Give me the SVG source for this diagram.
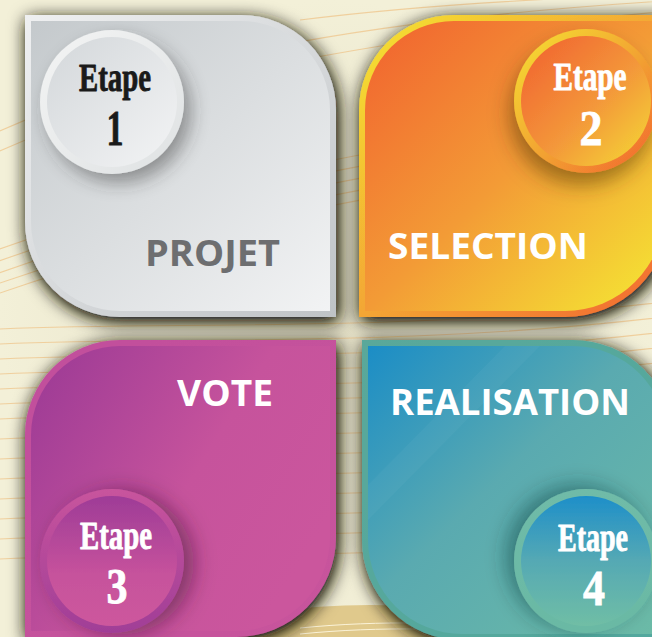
<svg xmlns="http://www.w3.org/2000/svg" width="652" height="637" viewBox="0 0 652 637">
<defs>
<style>
.etape{font-family:"Liberation Serif","Times New Roman",serif;font-weight:bold;font-size:40px;stroke-width:0.9px;stroke-linejoin:round}
.num{font-family:"Liberation Serif","Times New Roman",serif;font-weight:bold;font-size:50px;stroke-width:0.8px}
.lbl{font-family:"Open Sans","Liberation Sans",Arial,sans-serif;font-weight:bold;font-size:36px;fill:#ffffff}
.wave{fill:none;stroke:#efc489;stroke-width:1.1;opacity:.75}
.dark{fill:#1a1a1a;stroke:#1a1a1a}
.white{fill:#ffffff;stroke:#ffffff}
</style>
<filter id="tileShadow" x="-20%" y="-20%" width="140%" height="140%">
<feGaussianBlur in="SourceAlpha" stdDeviation="9" result="b"/>
<feOffset in="b" dx="2" dy="4" result="o"/>
<feFlood flood-color="#1c1b0c" flood-opacity="1"/>
<feComposite in2="o" operator="in" result="s"/>
<feComponentTransfer in="s" result="s2"><feFuncA type="linear" slope="1.25"/></feComponentTransfer>
<feMerge><feMergeNode in="s2"/><feMergeNode in="SourceGraphic"/></feMerge>
</filter>
<filter id="circShadowBR" x="-40%" y="-40%" width="180%" height="180%">
<feDropShadow dx="7" dy="9" stdDeviation="9" flood-color="#303030" flood-opacity="0.45"/>
</filter>
<filter id="circShadowBL" x="-40%" y="-40%" width="180%" height="180%">
<feDropShadow dx="-4" dy="12" stdDeviation="10" flood-color="#4a3000" flood-opacity="0.5"/>
</filter>
<filter id="circShadowR" x="-40%" y="-40%" width="180%" height="180%">
<feDropShadow dx="10" dy="2" stdDeviation="10" flood-color="#3a0f30" flood-opacity="0.5"/>
</filter>
<filter id="circShadowL" x="-40%" y="-40%" width="180%" height="180%">
<feDropShadow dx="-8" dy="-4" stdDeviation="10" flood-color="#0f3030" flood-opacity="0.45"/>
</filter>
<linearGradient id="g1b" x1="0" y1="0" x2="1" y2="1"><stop offset="0" stop-color="#eff0f1"/><stop offset="1" stop-color="#bfc3c6"/></linearGradient>
<linearGradient id="g1f" x1="0" y1="0" x2="1" y2="1"><stop offset="0" stop-color="#c4c9cc"/><stop offset="1" stop-color="#f2f3f4"/></linearGradient>
<linearGradient id="g2b" x1="0" y1="0" x2="1" y2="1"><stop offset="0" stop-color="#f4e432"/><stop offset="0.5" stop-color="#f3a634"/><stop offset="1" stop-color="#f2662f"/></linearGradient>
<linearGradient id="g2f" x1="0" y1="0" x2="1" y2="1"><stop offset="0" stop-color="#f1612f"/><stop offset="0.5" stop-color="#f39b36"/><stop offset="1" stop-color="#f5ea33"/></linearGradient>
<linearGradient id="g3b" x1="0" y1="0" x2="1" y2="1"><stop offset="0" stop-color="#c14f9c"/><stop offset="1" stop-color="#c8549c"/></linearGradient>
<linearGradient id="g3f" x1="0" y1="0" x2="1" y2="0.6"><stop offset="0" stop-color="#9a3995"/><stop offset="0.6" stop-color="#c6539c"/><stop offset="1" stop-color="#cb569d"/></linearGradient>
<linearGradient id="g4b" x1="0" y1="0" x2="1" y2="1"><stop offset="0" stop-color="#5aa89a"/><stop offset="1" stop-color="#52a89e"/></linearGradient>
<linearGradient id="g4f" x1="0" y1="0" x2="1" y2="1"><stop offset="0" stop-color="#1b8dc6"/><stop offset="0.45" stop-color="#5aaab0"/><stop offset="1" stop-color="#6cbba6"/></linearGradient>
<linearGradient id="c1r" x1="0" y1="0" x2="1" y2="1"><stop offset="0" stop-color="#f3f4f4"/><stop offset="1" stop-color="#dfe2e3"/></linearGradient>
<linearGradient id="c1f" x1="0" y1="0" x2="1" y2="1"><stop offset="0" stop-color="#d3d7da"/><stop offset="1" stop-color="#f3f4f5"/></linearGradient>
<linearGradient id="c2r" x1="0" y1="0" x2="1" y2="1"><stop offset="0" stop-color="#f5e233"/><stop offset="0.55" stop-color="#f2a030"/><stop offset="1" stop-color="#f2622f"/></linearGradient>
<linearGradient id="c2f" x1="0" y1="0" x2="1" y2="1"><stop offset="0" stop-color="#f15e2f"/><stop offset="0.55" stop-color="#f3973a"/><stop offset="1" stop-color="#f5dc34"/></linearGradient>
<linearGradient id="c3r" x1="0" y1="0" x2="0" y2="1"><stop offset="0" stop-color="#c8549d"/><stop offset="1" stop-color="#a03e97"/></linearGradient>
<linearGradient id="c3f" x1="0" y1="0" x2="0" y2="1"><stop offset="0" stop-color="#9e3c97"/><stop offset="0.6" stop-color="#c6529c"/><stop offset="1" stop-color="#cd589d"/></linearGradient>
<linearGradient id="c4r" x1="0" y1="0" x2="0" y2="1"><stop offset="0" stop-color="#6fbba8"/><stop offset="1" stop-color="#6ab9a4"/></linearGradient>
<linearGradient id="c4f" x1="0" y1="0" x2="0" y2="1"><stop offset="0" stop-color="#1e8fc9"/><stop offset="0.5" stop-color="#55a9b4"/><stop offset="1" stop-color="#70bea5"/></linearGradient>
<radialGradient id="bgGlow" cx="0.5" cy="0.5" r="0.5"><stop offset="0" stop-color="#e4e0c6"/><stop offset="1" stop-color="#f3f0d8"/></radialGradient>
</defs>

<g id="background">
<rect width="652" height="637" fill="url(#bgGlow)"/>
<ellipse cx="370" cy="700" rx="260" ry="95" fill="#e0c98c"/>
<g class="waves">
<path class="wave" d="M-20,300 C120,250 300,200 680,150"/>
<path class="wave" d="M-20,290 C120,240 300,190 680,140"/>
<path class="wave" d="M-20,280 C120,228 300,178 680,128"/>
<path class="wave" d="M-20,268 C120,216 300,166 680,116"/>
<path class="wave" d="M-20,256 C120,205 300,155 680,104"/>
<path class="wave" d="M-20,160 C150,80 350,40 680,10"/>
<path class="wave" d="M-20,140 C150,60 350,20 680,0"/>
<path class="wave" d="M300,20 C420,5 540,-2 680,-6"/>
<path class="wave" d="M-20,330 C150,320 400,335 680,300"/>
<path class="wave" d="M-20,345 C150,335 400,350 680,315"/>
<path class="wave" d="M-20,360 C150,350 400,365 680,330"/>
<path class="wave" d="M-20,375 C150,365 400,380 680,345"/>
<path class="wave" d="M-20,390 C150,380 400,395 680,360"/>
<path class="wave" d="M-20,405 C150,395 400,410 680,375"/>
<path class="wave" d="M-20,420 C150,410 400,425 680,390"/>
<path class="wave" d="M-20,440 C150,430 400,445 680,410"/>
<path class="wave" d="M-20,460 C150,450 400,465 680,430"/>
<path class="wave" d="M-20,480 C150,470 400,485 680,450"/>
<path class="wave" d="M-20,500 C150,490 400,505 680,470"/>
<path class="wave" d="M-20,520 C150,510 400,525 680,490"/>
<path class="wave" d="M-20,540 C150,530 400,545 680,510"/>
<path class="wave" d="M-20,560 C150,550 400,565 680,530"/>
<path d="M300,628 C380,620 460,622 560,630" fill="none" stroke="#fbf3d8" stroke-width="1"/>
<path d="M300,634 C380,626 460,628 560,636" fill="none" stroke="#fbf3d8" stroke-width="1"/>
</g>
</g>

<g id="connectors"/>

<g id="node-projet">
<g filter="url(#tileShadow)">
<path d="M25,15 H241 A95,95 0 0 1 336,110 V317 H120 A95,95 0 0 1 25,222 Z" fill="url(#g1b)"/>
</g>
<path d="M31,21 H241 A89,89 0 0 1 330,110 V311 H120 A89,89 0 0 1 31,222 Z" fill="url(#g1f)"/>
<text class="lbl" x="145" y="266" textLength="135" lengthAdjust="spacingAndGlyphs" style="fill:#6d6e70">PROJET</text>
<g id="etape-1" filter="url(#circShadowBR)">
<circle cx="112" cy="102" r="72" fill="url(#c1r)"/>
<circle cx="112" cy="102" r="65" fill="url(#c1f)"/>
</g>
<text class="etape dark" x="115" y="91" text-anchor="middle" textLength="72" lengthAdjust="spacingAndGlyphs">Etape</text>
<text class="num dark" x="115" y="145" text-anchor="middle" textLength="17" lengthAdjust="spacingAndGlyphs">1</text>
</g>

<g id="node-selection">
<g filter="url(#tileShadow)">
<path d="M359,110 A95,95 0 0 1 454,15 H670 V212 A105,105 0 0 1 565,317 H359 Z" fill="url(#g2b)"/>
</g>
<path d="M365,110 A89,89 0 0 1 454,21 H664 V212 A99,99 0 0 1 565,311 H365 Z" fill="url(#g2f)"/>
<text class="lbl" x="388" y="259" textLength="200" lengthAdjust="spacingAndGlyphs">SELECTION</text>
<g id="etape-2" filter="url(#circShadowBL)">
<circle cx="586" cy="101" r="72" fill="url(#c2r)"/>
<circle cx="586" cy="101" r="65" fill="url(#c2f)"/>
</g>
<text class="etape white" x="590" y="90" text-anchor="middle" textLength="73" lengthAdjust="spacingAndGlyphs">Etape</text>
<text class="num white" x="591" y="145" text-anchor="middle" textLength="23" lengthAdjust="spacingAndGlyphs">2</text>
</g>

<g id="node-vote">
<g filter="url(#tileShadow)">
<path d="M25,435 A95,95 0 0 1 120,340 H336 V537 A100,100 0 0 1 236,637 H25 Z" fill="url(#g3b)"/>
</g>
<path d="M31,435 A89,89 0 0 1 120,346 H330 V537 A94,94 0 0 1 236,631 H31 Z" fill="url(#g3f)"/>
<text class="lbl" x="177" y="406" textLength="96" lengthAdjust="spacingAndGlyphs">VOTE</text>
<g id="etape-3" filter="url(#circShadowR)">
<circle cx="112" cy="561" r="72" fill="url(#c3r)"/>
<circle cx="112" cy="561" r="65" fill="url(#c3f)"/>
</g>
<text class="etape white" x="116" y="549" text-anchor="middle" textLength="72" lengthAdjust="spacingAndGlyphs">Etape</text>
<text class="num white" x="117" y="603" text-anchor="middle" textLength="21" lengthAdjust="spacingAndGlyphs">3</text>
</g>

<g id="node-realisation">
<g filter="url(#tileShadow)">
<path d="M362,340 H573 A100,100 0 0 1 673,440 V640 H462 A100,100 0 0 1 362,540 Z" fill="url(#g4b)"/>
</g>
<path d="M368,346 H573 A94,94 0 0 1 667,440 V634 H462 A94,94 0 0 1 368,540 Z" fill="url(#g4f)"/>
<path d="M505,346 L540,346 L368,520 L368,485 Z" fill="#ffffff" opacity="0.035"/>
<text class="lbl" x="390" y="415" textLength="240" lengthAdjust="spacingAndGlyphs">REALISATION</text>
<g id="etape-4" filter="url(#circShadowL)">
<circle cx="586" cy="561" r="72" fill="url(#c4r)"/>
<circle cx="586" cy="561" r="65" fill="url(#c4f)"/>
</g>
<text class="etape white" x="593" y="551" text-anchor="middle" textLength="70" lengthAdjust="spacingAndGlyphs">Etape</text>
<text class="num white" x="594" y="605" text-anchor="middle" textLength="22" lengthAdjust="spacingAndGlyphs">4</text>
</g>
</svg>
